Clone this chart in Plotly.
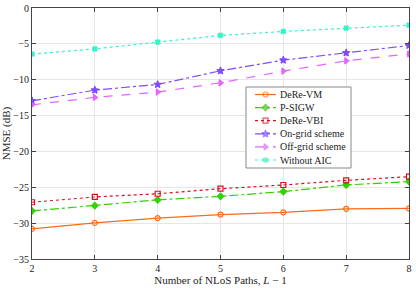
import plotly.graph_objects as go

paths = [2, 3, 4, 5, 6, 7, 8]
dere_vm = [-30.8, -29.97, -29.3, -28.8, -28.5, -28.0, -27.95]
p_sigw = [-28.3, -27.56, -26.75, -26.26, -25.6, -24.68, -24.2]
dere_vbi = [-27.09, -26.35, -25.9, -25.2, -24.68, -24.03, -23.52]
on_grid = [-12.94, -11.45, -10.66, -8.76, -7.27, -6.25, -5.23]
off_grid = [-13.5, -12.47, -11.73, -10.43, -8.8, -7.37, -6.4]
without_aic = [-6.43, -5.7, -4.76, -3.83, -3.27, -2.81, -2.4]

names = ["DeRe-VM", "P-SIGW", "DeRe-VBI", "On-grid scheme", "Off-grid scheme", "Without AIC"]
values = [dere_vm, p_sigw, dere_vbi, on_grid, off_grid, without_aic]
colors = ["#FF6A1A", "#33D100", "#D8101E", "#7F4CFF", "#E066FF", "#33F5C8"]
dashes = ["solid", "dashdot", "dot", "dashdot", "dash", "dot"]
symbols = ["circle-open", "diamond", "square-open", "star", "triangle-right", "x"]
sizes = [5, 5, 5, 5.5, 5.5, 4]

font = "Liberation Serif, Times New Roman, serif"
fig = go.Figure()
for name, vals, color, dash, sym, size in zip(names, values, colors, dashes, symbols, sizes):
    fig.add_trace(go.Scatter(
        x=paths, y=vals, name=name, mode="lines+markers", showlegend=False,
        line=dict(color=color, width=1.2, dash=dash),
        marker=dict(symbol=sym, size=size, color=color,
                    line=dict(color=color, width=1.2)),
    ))

# pixel helpers for the compact legend (plot area px 32..409 x 8..259)
PX0, PX1, PY0, PY1 = 32, 409, 8, 259
def px_to_x(px):
    return 2 + (px - PX0) / (PX1 - PX0) * 6
def py_to_y(py):
    return -(py - PY0) / (PY1 - PY0) * 35

LX0, LX1, LY0, LY1 = 246, 351, 87, 168
row0, rowstep = 94.5, 13.1
for i, (name, color, dash, sym, size) in enumerate(zip(names, colors, dashes, symbols, sizes)):
    yc = py_to_y(row0 + i * rowstep)
    fig.add_trace(go.Scatter(
        x=[px_to_x(255), px_to_x(265.5), px_to_x(276)], y=[yc, yc, yc],
        mode="lines+markers", showlegend=False, hoverinfo="skip",
        line=dict(color=color, width=1.2, dash=dash),
        marker=dict(symbol=sym, size=[0, size, 0], color=color,
                    line=dict(color=color, width=1.2)),
    ))
    fig.add_annotation(x=px_to_x(278), y=yc, xref="x", yref="y", text=name,
                       showarrow=False, xanchor="left", yanchor="middle",
                       font=dict(family=font, size=10, color="#222222"))
fig.add_shape(type="rect", x0=px_to_x(LX0), x1=px_to_x(LX1),
              y0=py_to_y(LY0), y1=py_to_y(LY1), xref="x", yref="y",
              fillcolor="white", line=dict(color="#888888", width=1), layer="between")

axis_common = dict(
    showline=True, linecolor="#444444", linewidth=1, mirror="ticks",
    ticks="inside", ticklen=4, tickcolor="#444444",
    showgrid=True, gridcolor="#E6E6E6", gridwidth=1, zeroline=False,
    automargin=False,
    tickfont=dict(family=font, size=10, color="#222222"),
)
fig.update_layout(
    xaxis=dict(range=[2, 8], dtick=1, **axis_common,
               title=dict(text="Number of NLoS Paths, <i>L</i> − 1",
                          font=dict(family=font, size=11, color="#222222"), standoff=0)),
    yaxis=dict(range=[-35, 0], dtick=5, **axis_common,
               title=dict(text="NMSE (dB)",
                          font=dict(family=font, size=11, color="#222222"), standoff=2)),
    width=416, height=288,
    margin=dict(l=32, r=7, t=8, b=29),
    paper_bgcolor="white", plot_bgcolor="white",
    font=dict(family=font, size=10, color="#222222"),
    showlegend=False,
)

fig.write_html("out.html", config={"displayModeBar": False},
               post_script="document.body.style.margin='0px';")
